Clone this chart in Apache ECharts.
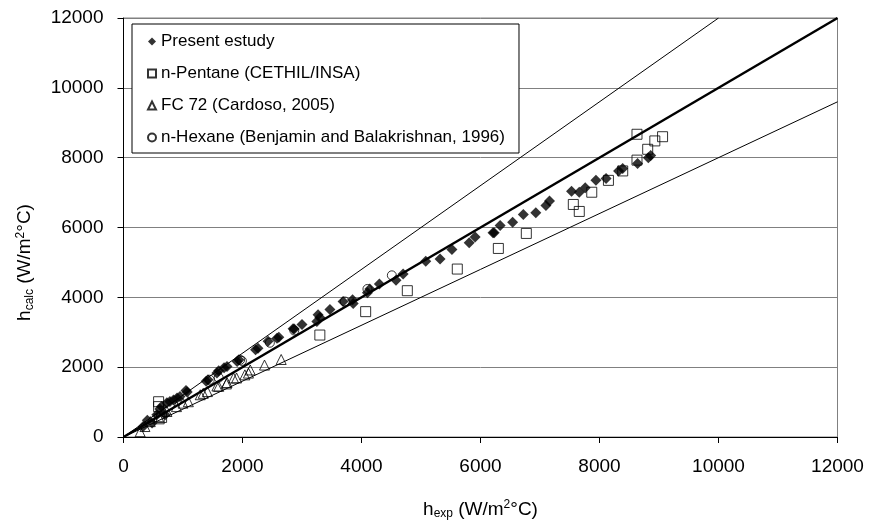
<!DOCTYPE html>
<html>
<head>
<meta charset="utf-8">
<script src="https://cdn.jsdelivr.net/npm/echarts@6/dist/echarts.min.js"></script>
<style>
  html, body { margin: 0; padding: 0; background: #fff; }
  #main { width: 870px; height: 525px; }
</style>
</head>
<body>
<div id="main"></div>
<script>
// tick labels (both axes)
const ticks = [0, 2000, 4000, 6000, 8000, 10000, 12000]

// Present estudy  [h_exp, h_calc]
const present = [
  [330,300],[400,480],[480,400],[560,640],[610,800],[640,870],[700,640],[730,980],
  [780,1020],[840,1060],[900,1120],[950,1160],[1050,1330],[1070,1290],[1390,1600],
  [1420,1640],[1570,1830],[1600,1900],[1690,1980],[1740,2020],[1910,2160],[1940,2210],
  [2220,2500],[2260,2540],[2430,2740],[2580,2830],[2610,2860],[2850,3100],[2870,3090],
  [3000,3220],[3250,3310],[3270,3500],[3300,3420],[3470,3650],[3690,3880],[3850,3930],
  [3860,3820],[4100,4130],[4140,4240],[4300,4380],[4580,4490],[4700,4670],[5080,5030],
  [5320,5100],[5520,5370],[5810,5560],[5910,5730],[6210,5850],[6230,5850],[6330,6060],
  [6540,6150],[6720,6370],[6930,6420],[7100,6630],[7160,6760],[7530,7040],[7660,7010],
  [7760,7140],[7940,7350],[8110,7400],[8320,7620],[8390,7690],[8640,7830],[8820,8000],
  [8860,8060]
]
// n-Pentane (CETHIL/INSA)
const pentane = [
  [590,1010],[590,870],[600,520],[640,560],[3300,2920],[4070,3590],[4770,4190],
  [5610,4810],[6300,5400],[6770,5830],[7560,6660],[7660,6460],[7870,7010],[8150,7350],
  [8390,7620],[8630,7930],[8630,8670],[8810,8240],[8930,8480],[9060,8600]
]
// FC 72 (Cardoso, 2005)
const fc72 = [
  [280,150],[360,300],[450,440],[590,580],[730,730],[890,870],[1000,970],[1090,1010],
  [1290,1210],[1340,1250],[1410,1300],[1570,1460],[1600,1450],[1730,1520],[1740,1560],
  [1850,1690],[1900,1690],[2040,1780],[2100,1830],[2130,1920],[2370,2060],[2650,2220]
]
// n-Hexane (Benjamin and Balakrishnan, 1996)
const hexane = [
  [1450,1640],[1600,1700],[1960,2210],[1990,2180],[2460,2700],[2870,3050],
  [3720,3880],[4100,4240],[4510,4630]
]
// reference lines: y = x, +20 %, -20 %
const lineEqual = [[0,0],[12000,12000]]
const linePlus = [[0,0],[10000,12000]]
const lineMinus = [[0,0],[12000,9600]]

const names = ['Present estudy', 'n-Pentane (CETHIL/INSA)', 'FC 72 (Cardoso, 2005)', 'n-Hexane (Benjamin and Balakrishnan, 1996)']

const font = 'Liberation Sans, Arial, sans-serif'
const emptyStyle = { color: 'rgba(255,255,255,0)', borderColor: '#000', borderWidth: 1 }

function nameRich() {
  return {
    i: { fontSize: 19, fontFamily: font, color: '#000' },
    sub: { fontSize: 12, fontFamily: font, color: '#000', padding: [9, 0, 0, 0] },
    sup: { fontSize: 12, fontFamily: font, color: '#000', padding: [0, 0, 9, 0] }
  }
}

const axisCommon = {
  type: 'value',
  min: ticks[0],
  max: ticks[ticks.length - 1],
  interval: ticks[1] - ticks[0],
  axisLine: { show: true, lineStyle: { color: '#000', width: 1 } },
  axisTick: { show: true, inside: false, length: 6, lineStyle: { color: '#000' } },
  axisLabel: { color: '#000', fontSize: 19, fontFamily: font, margin: 20,
    formatter: v => String(v) }
}

const myChart = echarts.init(document.getElementById('main'), null, { renderer: 'canvas' })
const option = {
  animation: false,
  backgroundColor: '#fff',
  grid: {
    left: 123.5, right: 32.5, top: 18, bottom: 88,
    show: true, borderColor: '#808080', borderWidth: 1, backgroundColor: 'transparent'
  },
  legend: {
    orient: 'vertical',
    left: 132,
    top: 24,
    data: names,
    backgroundColor: '#fff',
    borderColor: '#000',
    borderWidth: 1,
    borderRadius: 0,
    padding: [9, 14, 7, 15],
    itemWidth: 8,
    itemHeight: 8,
    itemGap: 15,
    textStyle: { fontSize: 17, fontFamily: font, color: '#000' }
  },
  xAxis: Object.assign({}, axisCommon, {
    name: '{i|h}{sub|exp}{i| (W/m}{sup|2}{i|°C)}',
    nameLocation: 'middle',
    nameGap: 62,
    nameTextStyle: { rich: nameRich() },
    splitLine: { show: false }
  }),
  yAxis: Object.assign({}, axisCommon, {
    name: '{i|h}{sub|calc}{i| (W/m}{sup|2}{i|°C)}',
    nameLocation: 'middle',
    nameGap: 88,
    nameRotate: 90,
    nameTextStyle: { rich: nameRich(), padding: [0, 70, 0, 0] },
    splitLine: { show: true, lineStyle: { color: '#808080', width: 1 } }
  }),
  series: [
    { type: 'line', data: linePlus, symbol: 'none', lineStyle: { color: '#000', width: 1 }, silent: true, z: 1 },
    { type: 'line', data: lineMinus, symbol: 'none', lineStyle: { color: '#000', width: 1 }, silent: true, z: 1 },
    { type: 'line', data: lineEqual, symbol: 'none', lineStyle: { color: '#000', width: 2.5 }, silent: true, z: 1 },
    { name: names[0], type: 'scatter', data: present, symbol: 'diamond', symbolSize: 11,
      itemStyle: { color: '#000' }, z: 3 },
    { name: names[1], type: 'scatter', data: pentane, symbol: 'rect', symbolSize: 10,
      itemStyle: emptyStyle, z: 3 },
    { name: names[2], type: 'scatter', data: fc72, symbol: 'triangle', symbolSize: 10,
      itemStyle: emptyStyle, z: 3 },
    { name: names[3], type: 'scatter', data: hexane, symbol: 'circle', symbolSize: 9,
      itemStyle: emptyStyle, z: 3 }
  ]
}
myChart.setOption(option)
</script>
</body>
</html>
